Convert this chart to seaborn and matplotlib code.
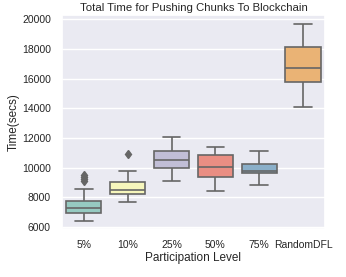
import numpy as np
import pandas as pd
import matplotlib
matplotlib.use("Agg")
import matplotlib.pyplot as plt
import seaborn as sns

categories = ["5%", "10%", "25%", "50%", "75%", "RandomDFL"]
vals_5 = [6400, 6600, 6750, 6850, 6900, 6950, 7050, 7100, 7200, 7250, 7300,
          7400, 7500, 7600, 7700, 7780, 8550, 9100, 9200, 9400, 9500]
vals_10 = [7650, 7950, 8200, 8350, 8500, 8750, 9000, 9800, 10900]
vals_25 = [9100, 9970, 10520, 11120, 12050]
vals_50 = [8450, 9400, 10050, 10880, 11400]
vals_75 = [8850, 9650, 9800, 10250, 11100]
vals_rand = [14050, 15750, 16700, 18150, 19650]

series = [vals_5, vals_10, vals_25, vals_50, vals_75, vals_rand]
rows = []
for c, vs in zip(categories, series):
    for v in vs:
        rows.append({"Participation Level": c, "Time(secs)": v})
df = pd.DataFrame(rows)

sns.set_theme(style="darkgrid")
plt.rcParams["font.family"] = ["Liberation Sans", "DejaVu Sans"]

fig = plt.figure(figsize=(3.46, 2.77), dpi=100)
ax = fig.add_axes([0.179, 0.173, 0.76, 0.773])
sns.boxplot(data=df, x="Participation Level", y="Time(secs)", hue="Participation Level",
            order=categories, palette="Set3", legend=False, ax=ax, linewidth=1.2,
            linecolor="#666666",
            flierprops=dict(marker="d", markerfacecolor="#666666", markeredgecolor="#666666",
                            markersize=4.5))
ax.set_ylim(5860, 20280)
ax.set_yticks([6000, 8000, 10000, 12000, 14000, 16000, 18000, 20000])
ax.tick_params(axis="both", labelsize=7.5, pad=2)
ax.set_xlabel("Participation Level", fontsize=8.5, labelpad=1)
ax.set_ylabel("Time(secs)", fontsize=8.5)
ax.yaxis.set_label_coords(-0.16, 0.5)
ax.set_title("Total Time for Pushing Chunks To Blockchain", fontsize=8.2, pad=3)
fig.savefig("out.png", dpi=100)
